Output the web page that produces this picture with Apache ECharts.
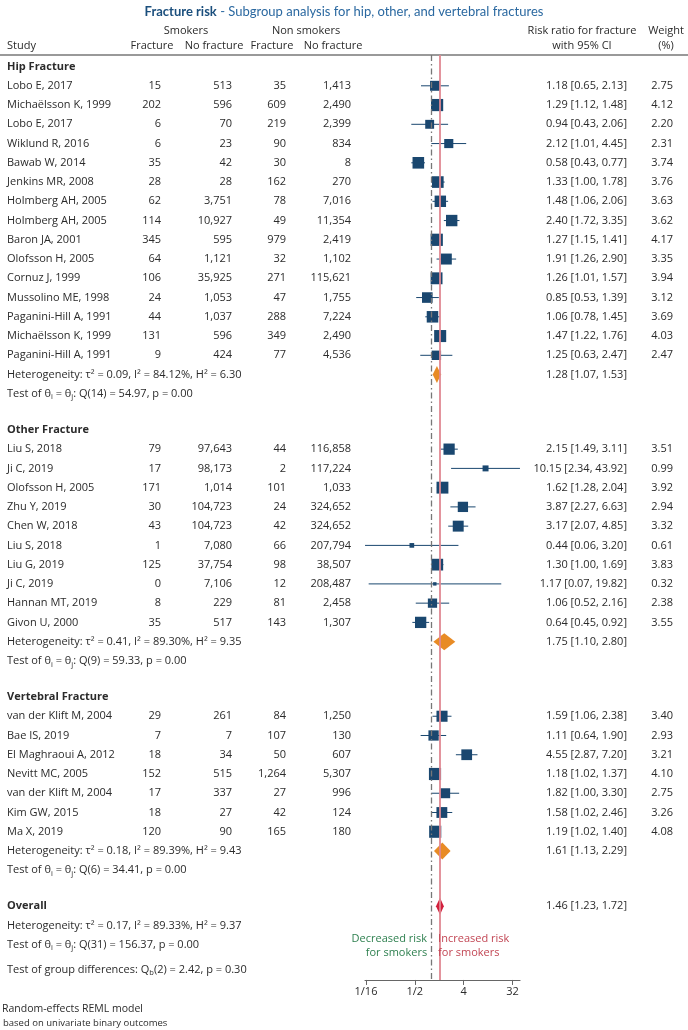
<!DOCTYPE html>
<html><head><meta charset="utf-8">
<script src="https://cdn.jsdelivr.net/npm/echarts@6/dist/echarts.min.js"></script>
<style>html,body{margin:0;padding:0;background:#fff}#c{width:688px;height:1030px}</style>
</head><body><div id="c"></div>
<script>
// ---------------- data ----------------
const groupNames = ['Hip Fracture', 'Other Fracture', 'Vertebral Fracture'];
const groupSizes = [15, 10, 7];
const studies = [
  'Lobo E, 2017','Michaëlsson K, 1999','Lobo E, 2017','Wiklund R, 2016','Bawab W, 2014',
  'Jenkins MR, 2008','Holmberg AH, 2005','Holmberg AH, 2005','Baron JA, 2001','Olofsson H, 2005',
  'Cornuz J, 1999','Mussolino ME, 1998','Paganini-Hill A, 1991','Michaëlsson K, 1999','Paganini-Hill A, 1991',
  'Liu S, 2018','Ji C, 2019','Olofsson H, 2005','Zhu Y, 2019','Chen W, 2018',
  'Liu S, 2018','Liu G, 2019','Ji C, 2019','Hannan MT, 2019','Givon U, 2000',
  'van der Klift M, 2004','Bae IS, 2019','El Maghraoui A, 2012','Nevitt MC, 2005','van der Klift M, 2004',
  'Kim GW, 2015','Ma X, 2019'
];
const smkFracture   = [15,202,6,6,35,28,62,114,345,64,106,24,44,131,9, 79,17,171,30,43,1,125,0,8,35, 29,7,18,152,17,18,120];
const smkNoFracture = [513,596,70,23,42,28,3751,10927,595,1121,35925,1053,1037,596,424, 97643,98173,1014,104723,104723,7080,37754,7106,229,517, 261,7,34,515,337,27,90];
const nonFracture   = [35,609,219,90,30,162,78,49,979,32,271,47,288,349,77, 44,2,101,24,42,66,98,12,81,143, 84,107,50,1264,27,42,165];
const nonNoFracture = [1413,2490,2399,834,8,270,7016,11354,2419,1102,115621,1755,7224,2490,4536, 116858,117224,1033,324652,324652,207794,38507,208487,2458,1307, 1250,130,607,5307,996,124,180];
const riskRatio = [1.18,1.29,0.94,2.12,0.58,1.33,1.48,2.40,1.27,1.91,1.26,0.85,1.06,1.47,1.25, 2.15,10.15,1.62,3.87,3.17,0.44,1.30,1.17,1.06,0.64, 1.59,1.11,4.55,1.18,1.82,1.58,1.19];
const ciLow  = [0.65,1.12,0.43,1.01,0.43,1.00,1.06,1.72,1.15,1.26,1.01,0.53,0.78,1.22,0.63, 1.49,2.34,1.28,2.27,2.07,0.06,1.00,0.07,0.52,0.45, 1.06,0.64,2.87,1.02,1.00,1.02,1.02];
const ciHigh = [2.13,1.48,2.06,4.45,0.77,1.78,2.06,3.35,1.41,2.90,1.57,1.39,1.45,1.76,2.47, 3.11,43.92,2.04,6.63,4.85,3.20,1.69,19.82,2.16,0.92, 2.38,1.90,7.20,1.37,3.30,2.46,1.40];
const weight = [2.75,4.12,2.20,2.31,3.74,3.76,3.63,3.62,4.17,3.35,3.94,3.12,3.69,4.03,2.47, 3.51,0.99,3.92,2.94,3.32,0.61,3.83,0.32,2.38,3.55, 3.40,2.93,3.21,4.10,2.75,3.26,4.08];
const subRR   = [1.28, 1.75, 1.61];
const subLow  = [1.07, 1.10, 1.13];
const subHigh = [1.53, 2.80, 2.29];
const subTau2 = [0.09, 0.41, 0.18];
const subI2   = [84.12, 89.30, 89.39];
const subH2   = [6.30, 9.35, 9.43];
const subQdf  = [14, 9, 6];
const subQ    = [54.97, 59.33, 34.41];
const subP    = [0.00, 0.00, 0.00];
const overallEst = [1.46, 1.23, 1.72];      // RR, low, high
const overallHet = [0.17, 89.33, 9.37];     // tau2, I2, H2
const overallQ   = [31, 156.37, 0.00];      // df, Q, p
const groupDiff  = [2, 2.42, 0.30];         // df, Qb, p
const tickValues = [1/16, 1/2, 4, 32];
const tickLabels = ['1/16', '1/2', '4', '32'];

// ---------------- layout ----------------
const FONT = "'Open Sans', 'Noto Sans', sans-serif";
const TFONT = "Lato, 'Open Sans', sans-serif";
const FS = 11;
const TXT = '#2b2b2b';
const NAVY = '#1a476f';
const ROW = 19.25, TOP = 55, Y_MIN = -0.6, Y_MAX = 47.45;
const L2 = Math.log2;

const rows = [];
const studyRow = [];
const subRow = [];
let r = 0, k = 0;
groupNames.forEach((g, gi) => {
  rows.push({ r, kind: 'group', text: g });
  for (let j = 0; j < groupSizes[gi]; j++, k++) { r += 1; studyRow.push(r); rows.push({ r, kind: 'study', i: k }); }
  r += 1; subRow.push(r); rows.push({ r, kind: 'het', gi });
  r += 1; rows.push({ r, kind: 'test', gi });
  r += 1.875;
});
const overallRow = r;
rows.push({ r: overallRow, kind: 'overall' });
rows.push({ r: overallRow + 1, kind: 'ohet' });
rows.push({ r: overallRow + 2, kind: 'otest' });
rows.push({ r: overallRow + 3.275, kind: 'gdiff' });
rows.push({ r: overallRow + 1.675, kind: 'ann', a: 'Decreased risk', b: 'Increased risk' });
rows.push({ r: overallRow + 2.405, kind: 'ann', a: 'for smokers', b: 'for smokers' });

const fmtN = v => v.toLocaleString('en-US');
const f2 = v => v.toFixed(2);
const ciText = (e, l, h) => `${f2(e)} [${f2(l)}, ${f2(h)}]`;

function T(x, y, text, align, extra) {
  return { type: 'text', x, y, style: Object.assign({
    text, fill: TXT, fontSize: FS, fontFamily: FONT,
    align, textAlign: align, verticalAlign: 'middle', textVerticalAlign: 'middle',
    lineHeight: 15, rich: { s: { fontSize: 7.5, fontFamily: FONT, fill: TXT, verticalAlign: 'bottom' } }
  }, extra || {}) };
}

const COL = { name: 7, c1: 161, c2: 232, c3: 286, c4: 351, est: 627, wt: 673 };

function renderText(params, api) {
  const row = rows[api.value(2)];
  const y = api.coord([0, api.value(1)])[1];
  const ch = [];
  if (row.kind === 'group') ch.push(T(COL.name, y, row.text, 'left', { fontWeight: 'bold' }));
  else if (row.kind === 'study') {
    const i = row.i;
    ch.push(T(COL.name, y, studies[i], 'left'));
    ch.push(T(COL.c1, y, fmtN(smkFracture[i]), 'right'));
    ch.push(T(COL.c2, y, fmtN(smkNoFracture[i]), 'right'));
    ch.push(T(COL.c3, y, fmtN(nonFracture[i]), 'right'));
    ch.push(T(COL.c4, y, fmtN(nonNoFracture[i]), 'right'));
    ch.push(T(COL.est, y, ciText(riskRatio[i], ciLow[i], ciHigh[i]), 'right'));
    ch.push(T(COL.wt, y, f2(weight[i]), 'right'));
  } else if (row.kind === 'het') {
    const g = row.gi;
    ch.push(T(COL.name, y, `Heterogeneity: τ² = ${f2(subTau2[g])}, I² = ${f2(subI2[g])}%, H² = ${f2(subH2[g])}`, 'left'));
    ch.push(T(COL.est, y, ciText(subRR[g], subLow[g], subHigh[g]), 'right'));
  } else if (row.kind === 'test') {
    const g = row.gi;
    ch.push(T(COL.name, y, `Test of θ{s|i} = θ{s|j}: Q(${subQdf[g]}) = ${f2(subQ[g])}, p = ${f2(subP[g])}`, 'left'));
  } else if (row.kind === 'overall') {
    ch.push(T(COL.name, y, 'Overall', 'left', { fontWeight: 'bold' }));
    ch.push(T(COL.est, y, ciText(overallEst[0], overallEst[1], overallEst[2]), 'right'));
  } else if (row.kind === 'ohet') {
    ch.push(T(COL.name, y, `Heterogeneity: τ² = ${f2(overallHet[0])}, I² = ${f2(overallHet[1])}%, H² = ${f2(overallHet[2])}`, 'left'));
  } else if (row.kind === 'otest') {
    ch.push(T(COL.name, y, `Test of θ{s|i} = θ{s|j}: Q(${overallQ[0]}) = ${f2(overallQ[1])}, p = ${f2(overallQ[2])}`, 'left'));
  } else if (row.kind === 'gdiff') {
    ch.push(T(COL.name, y, `Test of group differences: Q{s|b}(${groupDiff[0]}) = ${f2(groupDiff[1])}, p = ${f2(groupDiff[2])}`, 'left'));
  } else if (row.kind === 'ann') {
    const x1 = api.coord([0, 0])[0];
    ch.push(T(x1 - 4, y, row.a, 'right', { fill: '#2f8050' }));
    ch.push(T(x1 + 7, y, row.b, 'left', { fill: '#c24654' }));
  }
  return { type: 'group', children: ch };
}

function renderCI(params, api) {
  const p1 = api.coord([api.value(0), api.value(2)]);
  const p2 = api.coord([api.value(1), api.value(2)]);
  return { type: 'line', shape: { x1: p1[0], y1: p1[1], x2: p2[0], y2: p2[1] },
    style: { stroke: NAVY, lineWidth: 1 } };
}

const DIA_H = 8.5;
function renderDiamond(params, api) {
  const lo = api.coord([api.value(0), api.value(3)]);
  const est = api.coord([api.value(1), api.value(3)]);
  const hi = api.coord([api.value(2), api.value(3)]);
  const y = est[1];
  return { type: 'polygon', shape: { points: [[lo[0], y], [est[0], y - DIA_H], [hi[0], y], [est[0], y + DIA_H]] },
    style: { fill: api.value(4) ? '#d21f3c' : '#e88b25' } };
}

const ciData = studies.map((_, i) => [L2(ciLow[i]), L2(ciHigh[i]), studyRow[i]]);
const sqData = studies.map((_, i) => [L2(riskRatio[i]), studyRow[i], weight[i]]);
const diaData = subRR.map((v, g) => [L2(subLow[g]), L2(v), L2(subHigh[g]), subRow[g], 0]);
diaData.push([L2(overallEst[1]), L2(overallEst[0]), L2(overallEst[2]), overallRow, 1]);
const textData = rows.map((row, i) => [0, row.r, i]);
const tickPos = tickValues.map(L2);

const chart = echarts.init(document.getElementById('c'), null, { renderer: 'canvas' });
const xMin = -4.06, xMax = 5.46, PX = 16.28;
chart.setOption({
  animation: false,
  backgroundColor: '#fff',
  textStyle: { fontFamily: FONT },
  grid: { left: 366 - 0.06 * PX, top: TOP, width: (xMax - xMin) * PX, height: (Y_MAX - Y_MIN) * ROW, containLabel: false },
  xAxis: {
    type: 'value', min: xMin, max: xMax, position: 'bottom',
    axisLine: { show: true, onZero: false, lineStyle: { color: '#666', width: 1.2 } },
    axisTick: { show: true, length: 5, customValues: tickPos, lineStyle: { color: '#666' } },
    axisLabel: { customValues: tickPos, color: TXT, fontSize: FS, fontFamily: FONT, margin: 6,
      formatter: v => { const j = tickPos.findIndex(t => Math.abs(t - v) < 1e-6); return j >= 0 ? tickLabels[j] : ''; } },
    splitLine: { show: false }
  },
  yAxis: { type: 'value', inverse: true, min: Y_MIN, max: Y_MAX, show: false },
  graphic: [
    { type: 'text', x: 344, y: 12, style: { text: '{b|Fracture risk}{n| - Subgroup analysis for hip, other, and vertebral fractures}',
        align: 'center', textAlign: 'center', verticalAlign: 'middle', textVerticalAlign: 'middle',
        rich: { b: { fontSize: 13, fontWeight: 'bold', fill: '#1b4f7d', fontFamily: TFONT },
                n: { fontSize: 13, fill: '#2a68a0', fontFamily: TFONT } } } },
    ...[
      ['Smokers', 186, 31, 'center'], ['Non smokers', 306, 31, 'center'],
      ['Study', 7, 46, 'left'], ['Fracture', 152, 46, 'center'], ['No fracture', 214, 46, 'center'],
      ['Fracture', 272, 46, 'center'], ['No fracture', 333, 46, 'center'],
      ['Risk ratio for fracture', 582, 31, 'center'], ['with 95% CI', 582, 46, 'center'],
      ['Weight', 666, 31, 'center'], ['(%)', 666, 46, 'center'],
      ['Random-effects REML model', 2, 1009, 'left', 10.5], ['based on univariate binary outcomes', 3, 1023, 'left', 9.5]
    ].map(([t, x, y, a, fs]) => ({ type: 'text', x, y, style: { text: t, fill: TXT, fontSize: fs || FS, fontFamily: FONT,
        align: a, textAlign: a, verticalAlign: 'middle', textVerticalAlign: 'middle' } })),
    { type: 'line', shape: { x1: 0, y1: 55, x2: 688, y2: 55 }, style: { stroke: '#777', lineWidth: 1.5 } }
  ],
  series: [
    { type: 'line', data: [], z: 1, silent: true,
      markLine: { silent: true, symbol: 'none', label: { show: false },
        data: [
          { xAxis: 0, lineStyle: { color: '#777', width: 1.3, type: [6, 3, 1.5, 3] } },
          { xAxis: L2(overallEst[0]), lineStyle: { color: '#e08892', width: 1.8, type: 'solid' } }
        ] } },
    { type: 'custom', z: 2, renderItem: renderCI, data: ciData, silent: true },
    { type: 'scatter', z: 3, symbol: 'rect', data: sqData, symbolSize: v => 6 * Math.sqrt(v[2]),
      itemStyle: { color: NAVY, opacity: 1 }, silent: true },
    { type: 'custom', z: 4, renderItem: renderDiamond, data: diaData, silent: true },
    { type: 'custom', z: 5, renderItem: renderText, data: textData, silent: true, clip: false }
  ]
});
</script></body></html>
